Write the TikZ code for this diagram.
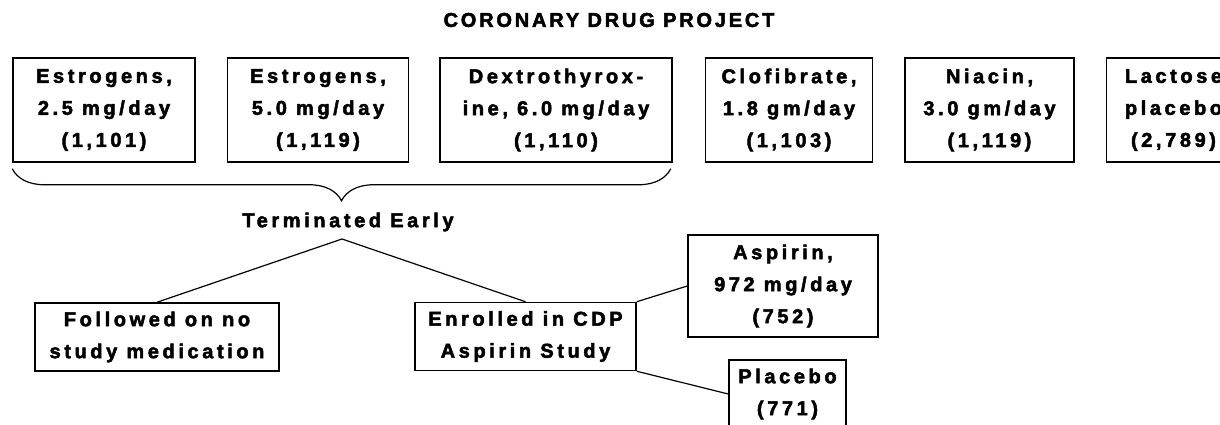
\documentclass[tikz,border=0pt]{standalone}
\usepackage{fontspec}
\setmainfont{Liberation Sans}[LetterSpace=18, BoldFeatures={FakeBold=2.5}]
\usetikzlibrary{positioning,decorations.pathreplacing}

\begin{document}
\begin{tikzpicture}[
    x=1pt, y=-1pt,
    font=\bfseries\fontsize{20}{32}\selectfont,
    arm/.style={draw, line width=1.5pt, minimum height=104pt, inner sep=0pt, align=center},
    sub/.style={draw, line width=1.5pt, minimum height=68pt, inner sep=0pt, align=center},
    link/.style={line width=1.2pt}
]
\useasboundingbox (0,0) rectangle (1220,425);
\node[font=\bfseries\fontsize{20}{24}\selectfont\addfontfeature{LetterSpace=14}] (title) at (609,20) {CORONARY DRUG PROJECT};
% treatment arms
\node[arm, minimum width=182pt] (estA) at (104,110) {Estrogens,\\2.5 mg/day\\(1,101)};
\node[arm, minimum width=181pt, right=31pt of estA] (estB) {Estrogens,\\5.0 mg/day\\(1,119)};
\node[arm, minimum width=232pt, right=30pt of estB] (dextro) {Dextrothyrox-\\ine, 6.0 mg/day\\(1,110)};
\node[arm, minimum width=167pt, right=32pt of dextro] (clof) {Clofibrate,\\1.8 gm/day\\(1,103)};
\node[arm, minimum width=169pt, right=31pt of clof] (niacin) {Niacin,\\3.0 gm/day\\(1,119)};
\node[arm, minimum width=134pt, right=31pt of niacin] (lactose) {Lactose\\placebo\\(2,789)};
% stopped arms
\coordinate (bl) at ([yshift=-6pt]estA.south west);
\coordinate (br) at ([yshift=-6pt, xshift=-2pt]dextro.south east);
\draw[link, decorate, decoration={brace, mirror, amplitude=32pt}] (bl) -- (br);
\node (term) at (348,222) {Terminated Early};
\coordinate (fork) at (342,239);
\node[sub, minimum width=244pt] (nomed) at (157,337) {Followed on no\\study medication};
\node[sub, minimum width=221pt] (enrolled) at (525.5,336.5) {Enrolled in CDP\\Aspirin Study};
\node[arm, minimum width=190pt, minimum height=102pt] (aspirin) at (783,286) {Aspirin,\\972 mg/day\\(752)};
\node[sub, minimum width=117pt] (placebo) at (787.5,394) {Placebo\\(771)};
\draw[link] (fork) -- (nomed.north);
\draw[link] (fork) -- (enrolled.north);
\draw[link] (enrolled.north east) -- (aspirin.west);
\draw[link] (enrolled.south east) -- (placebo.west);
\end{tikzpicture}
\end{document}
